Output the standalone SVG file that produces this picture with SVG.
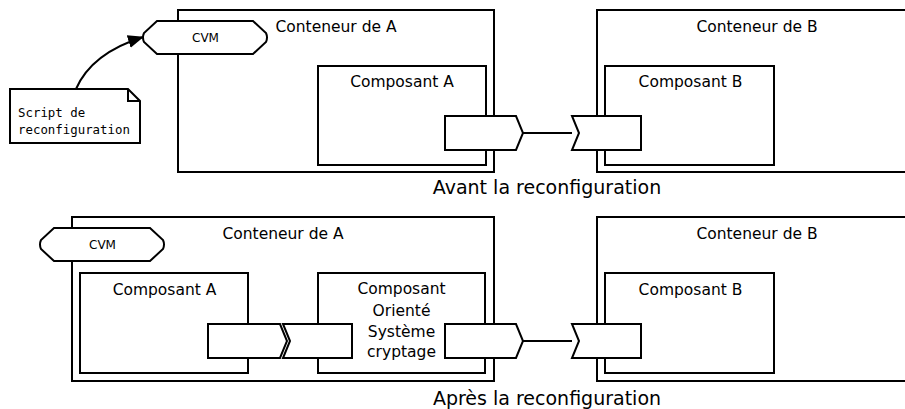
<svg xmlns="http://www.w3.org/2000/svg" width="905" height="409" viewBox="0 0 905 409">
<defs>
<style>
.box{fill:#fff;stroke:#000;stroke-width:2}
.ln{fill:none;stroke:#000;stroke-width:2}
text{font-family:"DejaVu Sans",sans-serif;fill:#000;text-anchor:middle}
.lbl{font-size:15.5px}
.cap{font-size:19px}
.cvm{font-size:12px}
.mono{font-family:"DejaVu Sans Mono",monospace;font-size:12.4px;text-anchor:start}
</style>
<marker id="ah" markerUnits="userSpaceOnUse" markerWidth="16" markerHeight="16" viewBox="0 0 16 16" refX="15" refY="8" orient="auto">
<path d="M0,1.5 L16,8 L0,14.5 Z" fill="#000"/>
</marker>
</defs>
<rect width="905" height="409" fill="#fff"/>

<!-- TOP: before reconfiguration -->
<g id="contA1">
<rect class="box" x="178" y="10" width="316" height="162"/>
<text class="lbl" x="336" y="32">Conteneur de A</text>
</g>
<g id="contB1">
<rect class="box" x="597" y="10" width="320" height="162"/>
<text class="lbl" x="757" y="32">Conteneur de B</text>
</g>
<g id="compA1">
<rect class="box" x="318" y="66" width="168" height="99"/>
<text class="lbl" x="402" y="87">Composant A</text>
</g>
<g id="compB1">
<rect class="box" x="605" y="66" width="169" height="99"/>
<text class="lbl" x="690.5" y="87">Composant B</text>
</g>
<g id="cvm1">
<path class="box" d="M157,21 H253 L266,33 Q268,37.5 266,42 L253,54 H157 L144,42 Q142,37.5 144,33 Z"/>
<text class="cvm" x="205.5" y="42">CVM</text>
</g>
<g id="script">
<path class="box" d="M10,89 H128 L140,101 V143 H10 Z"/>
<path class="ln" d="M128,89 V101 H140" stroke-width="1.5"/>
<text class="mono" x="18" y="117">Script de</text>
<text class="mono" x="18" y="134">reconfiguration</text>
</g>
<g id="portA1out">
<path class="box" d="M445,116 H516 L523,133 L516,150 H445 Z"/>
</g>
<g id="portB1in">
<path class="box" d="M572,116 H641 V150 H572 L579,133 Z"/>
</g>
<text class="cap" id="cap1" x="547" y="194">Avant la reconfiguration</text>

<!-- BOTTOM: after reconfiguration -->
<g id="contA2">
<rect class="box" x="72" y="217" width="422" height="164"/>
<text class="lbl" x="283" y="239">Conteneur de A</text>
</g>
<g id="contB2">
<rect class="box" x="597" y="217" width="320" height="164"/>
<text class="lbl" x="757" y="239">Conteneur de B</text>
</g>
<g id="compA2">
<rect class="box" x="80" y="273" width="168" height="100"/>
<text class="lbl" x="164.5" y="295">Composant A</text>
</g>
<g id="crypt">
<rect class="box" x="318" y="273" width="167" height="100"/>
<text class="lbl" x="401.5" y="294">Composant</text>
<text class="lbl" x="401.5" y="315.5">Orienté</text>
<text class="lbl" x="401.5" y="336.5">Système</text>
<text class="lbl" x="401.5" y="357">cryptage</text>
</g>
<g id="compB2">
<rect class="box" x="605" y="273" width="169" height="100"/>
<text class="lbl" x="690.5" y="295">Composant B</text>
</g>
<g id="cvm2">
<path class="box" d="M54,228 H150 L163,240 Q165,244.5 163,249 L150,261 H54 L41,249 Q39,244.5 41,240 Z"/>
<text class="cvm" x="102.5" y="249">CVM</text>
</g>
<g id="portA2out">
<path class="box" d="M208,324 H280 L287,341 L280,358 H208 Z"/>
</g>
<g id="portCin">
<path class="box" d="M283,324 H352 V358 H283 L290,341 Z"/>
</g>
<g id="portCout">
<path class="box" d="M445,324 H516 L523,341 L516,358 H445 Z"/>
</g>
<g id="portB2in">
<path class="box" d="M572,324 H641 V358 H572 L579,341 Z"/>
</g>
<text class="cap" id="cap2" x="547" y="405">Après la reconfiguration</text>

<g id="connectors">
<path class="ln" d="M76,89 C86,66 108,48 143,37" marker-end="url(#ah)"/>
<line class="ln" x1="523" y1="133" x2="572" y2="133"/>
<line class="ln" x1="523" y1="341" x2="572" y2="341"/>
</g>
</svg>
